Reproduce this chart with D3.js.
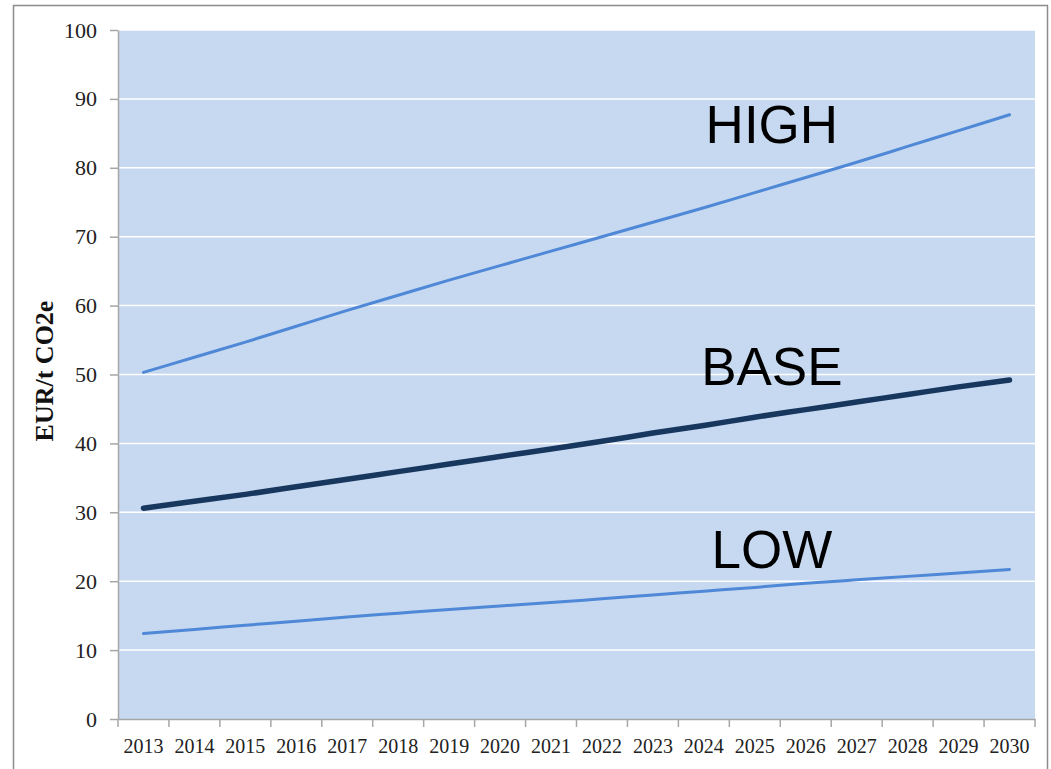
<!DOCTYPE html>
<html>
<head>
<meta charset="utf-8">
<script src="https://cdn.jsdelivr.net/npm/d3@7"></script>
<style>
  html, body { margin: 0; padding: 0; background: #fff; }
  svg { display: block; }
</style>
</head>
<body>
<svg id="chart" width="1051" height="769"></svg>
<script>
const years = ["2013", "2014", "2015", "2016", "2017", "2018", "2019", "2020", "2021",
  "2022", "2023", "2024", "2025", "2026", "2027", "2028", "2029", "2030"]

const high = [50.3, 52.5, 54.7, 57.0, 59.3, 61.5, 63.7, 65.8, 67.9,
  70.0, 72.1, 74.2, 76.4, 78.6, 80.8, 83.1, 85.4, 87.7]
const base = [30.6, 31.6, 32.6, 33.7, 34.8, 35.9, 37.0, 38.1, 39.2,
  40.3, 41.5, 42.6, 43.8, 44.9, 46.0, 47.1, 48.2, 49.2]
const low = [12.4, 13.0, 13.6, 14.2, 14.8, 15.35, 15.9, 16.4, 16.9,
  17.45, 18.0, 18.55, 19.1, 19.7, 20.2, 20.7, 21.2, 21.7]

const yTicks = [0, 10, 20, 30, 40, 50, 60, 70, 80, 90, 100]
const yTitle = "EUR/t CO2e"

const series = [
  {name: "HIGH", values: high, color: "#4f88d6", width: 3},
  {name: "BASE", values: base, color: "#17375e", width: 5.5},
  {name: "LOW", values: low, color: "#4f88d6", width: 3},
]

const svg = d3.select("#chart")
const m = {left: 118, top: 30, right: 1035, bottom: 719}

// outer frame
svg.append("rect")
  .attr("x", 13.5).attr("y", 5.5)
  .attr("width", 1034).attr("height", 780)
  .attr("fill", "#fff").attr("stroke", "#8c8c8c").attr("stroke-width", 1.5)

const x = d3.scaleBand().domain(years).range([m.left, m.right]).padding(0)
const y = d3.scaleLinear().domain([0, 100]).range([m.bottom, m.top])
const cx = (i) => x(years[i]) + x.bandwidth() / 2

// plot area
svg.append("rect")
  .attr("x", m.left).attr("y", m.top)
  .attr("width", m.right - m.left).attr("height", m.bottom - m.top)
  .attr("fill", "#c6d9f0")

// gridlines
svg.append("g")
  .selectAll("line")
  .data(yTicks.filter((t) => t > 0))
  .join("line")
  .attr("x1", m.left).attr("x2", m.right)
  .attr("y1", (d) => y(d)).attr("y2", (d) => y(d))
  .attr("stroke", "#fff").attr("stroke-width", 1.5)

// y axis
svg.append("g")
  .attr("transform", `translate(${m.left},0)`)
  .call(d3.axisLeft(y).tickValues(yTicks).tickSize(8).tickPadding(13).tickSizeOuter(0))
  .call((g) => g.select(".domain").attr("stroke", "#a6a6a6").attr("stroke-width", 1.5))
  .call((g) => g.selectAll(".tick line").attr("stroke", "#a6a6a6").attr("stroke-width", 1.5))
  .call((g) => g.selectAll("text")
    .attr("font-family", "Liberation Serif, serif")
    .attr("font-size", 22).attr("fill", "#222"))

// x axis: labels at band centres, ticks at band edges
svg.append("g")
  .attr("transform", `translate(0,${m.bottom})`)
  .call(d3.axisBottom(x).tickSize(0).tickPadding(20).tickSizeOuter(0))
  .call((g) => g.select(".domain").attr("stroke", "#a6a6a6").attr("stroke-width", 1.5))
  .call((g) => g.selectAll("text")
    .attr("font-family", "Liberation Serif, serif")
    .attr("font-size", 20).attr("fill", "#222"))

svg.append("g")
  .selectAll("line")
  .data(years.map((yr) => x(yr)).concat([m.right]))
  .join("line")
  .attr("x1", (d) => d).attr("x2", (d) => d)
  .attr("y1", m.bottom).attr("y2", m.bottom + 8)
  .attr("stroke", "#a6a6a6").attr("stroke-width", 1.5)

// y title
svg.append("text")
  .attr("transform", `translate(53,371) rotate(-90)`)
  .attr("text-anchor", "middle")
  .attr("font-family", "Liberation Serif, serif")
  .attr("font-weight", "bold")
  .attr("font-size", 26)
  .attr("fill", "#111")
  .text(yTitle)

// lines
const line = d3.line()
  .x((d, i) => cx(i))
  .y((d) => y(d))
  .curve(d3.curveMonotoneX)

svg.append("g")
  .selectAll("path")
  .data(series)
  .join("path")
  .attr("fill", "none")
  .attr("stroke", (s) => s.color)
  .attr("stroke-width", (s) => s.width)
  .attr("stroke-linecap", "round")
  .attr("d", (s) => line(s.values))

// series labels (baseline level in chart units)
const labelLevel = {HIGH: 83.6, BASE: 48.5, LOW: 21.9}
svg.append("g")
  .selectAll("text")
  .data(series)
  .join("text")
  .attr("x", cx(11) + 68)
  .attr("y", (s) => y(labelLevel[s.name]))
  .attr("text-anchor", "middle")
  .attr("font-family", "Liberation Sans, Arial, sans-serif")
  .attr("font-size", 53)
  .attr("fill", "#000")
  .text((s) => s.name)
</script>
</body>
</html>
